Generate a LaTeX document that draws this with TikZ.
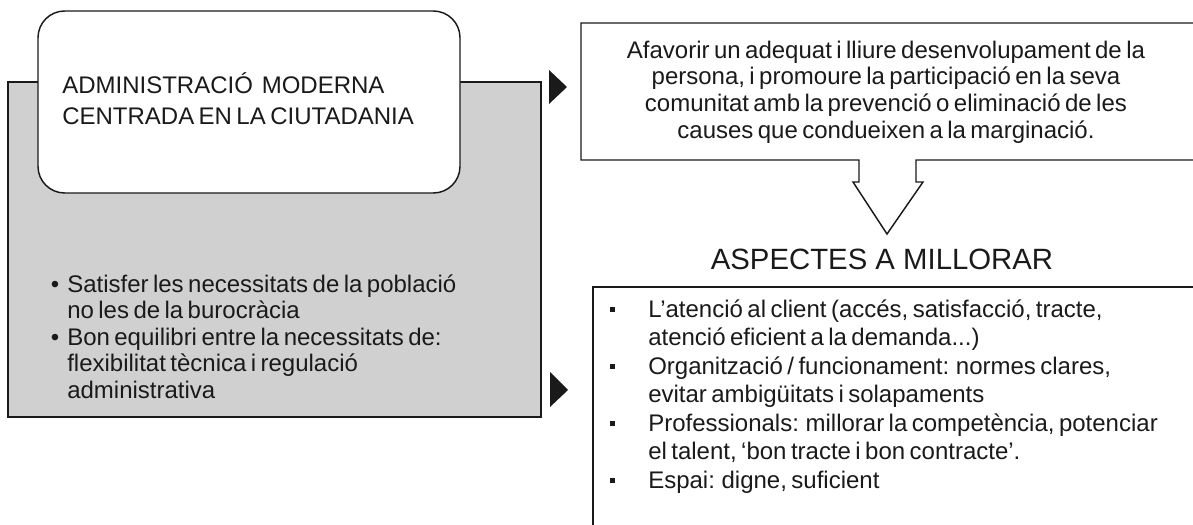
\documentclass[tikz,border=0pt]{standalone}
\usepackage{fontspec}
\setmainfont{Liberation Sans}
\usepackage{tikz}

\definecolor{panelgrey}{RGB}{208,208,208}
\definecolor{inkgrey}{RGB}{26,26,26}
\newcommand\lines[1]{\fontsize{18}{#1}\selectfont}
\newcommand\dotitem{\leavevmode\llap{•\hspace{6pt}}}
\newcommand\sqitem{\leavevmode\llap{\rule[3.8pt]{3.8pt}{3.8pt}\hspace{24.75pt}}}

\begin{document}
\begin{tikzpicture}[x=0.75pt,y=-0.75pt,
  box/.style={draw=inkgrey,line width=1.1pt},
  txt/.style={inner sep=0pt,text=inkgrey,anchor=base west,align=left}]
\useasboundingbox (0,0) rectangle (1193,525);
% left panel
\draw[box,fill=panelgrey,line width=1.5pt] (8,82) rectangle (541,417);
\draw[box,fill=white,rounded corners=20pt] (38,11) rectangle (460,193);
\node[txt,text width=330pt] (titol) at (62,93)
  {\lines{23.25pt}ADMINISTRACIÓ\ \ MODERNA\\CENTRADA EN LA CIUTADANIA\par};
\node[txt,text width=340pt] (objectius) at (67,292)
  {\lines{19.9pt}\dotitem Satisfer les necessitats de la població\\
   no les de la burocràcia\\
   \dotitem Bon equilibri entre la necessitats de:\\
   flexibilitat tècnica i regulació\\
   administrativa\par};
% pointers
\fill[inkgrey] (549,70) -- (567,87) -- (549,104) -- cycle;
\fill[inkgrey] (550,372) -- (568,390) -- (550,407) -- cycle;
% callout
\draw[box,fill=white] (581,23) -- (1200,23) -- (1200,160) -- (916,160)
  -- (916,182) -- (923,182) -- (887,234) -- (853,182) -- (859,182)
  -- (859,160) -- (581,160) -- cycle;
\node[txt,anchor=base,text width=420pt,align=center] (finalitat) at (886,58)
  {\lines{20.2pt}Afavorir un adequat i lliure desenvolupament de la\\
   persona, i promoure la participació en la seva\\
   comunitat amb la prevenció o eliminació de les\\
   causes que condueixen a la marginació.\par};
\node[txt,anchor=base,font=\fontsize{22}{26}\selectfont] (aspectes) at (882,269)
  {ASPECTES A MILLORAR};
% improvements
\draw[box,fill=white,line width=1.5pt] (593,287) rectangle (1200,540);
\node[txt,text width=400pt] (millores) at (648,317)
  {\lines{21.4pt}\sqitem L’atenció al client (accés, satisfacció, tracte,\\
   atenció eficient a la demanda...)\\
   \sqitem Organització / funcionament: normes clares,\\
   evitar ambigüitats i solapaments\\
   \sqitem Professionals: millorar la competència, potenciar\\
   el talent, ‘bon tracte i bon contracte’.\\
   \sqitem Espai: digne, suficient\par};
\end{tikzpicture}
\end{document}
